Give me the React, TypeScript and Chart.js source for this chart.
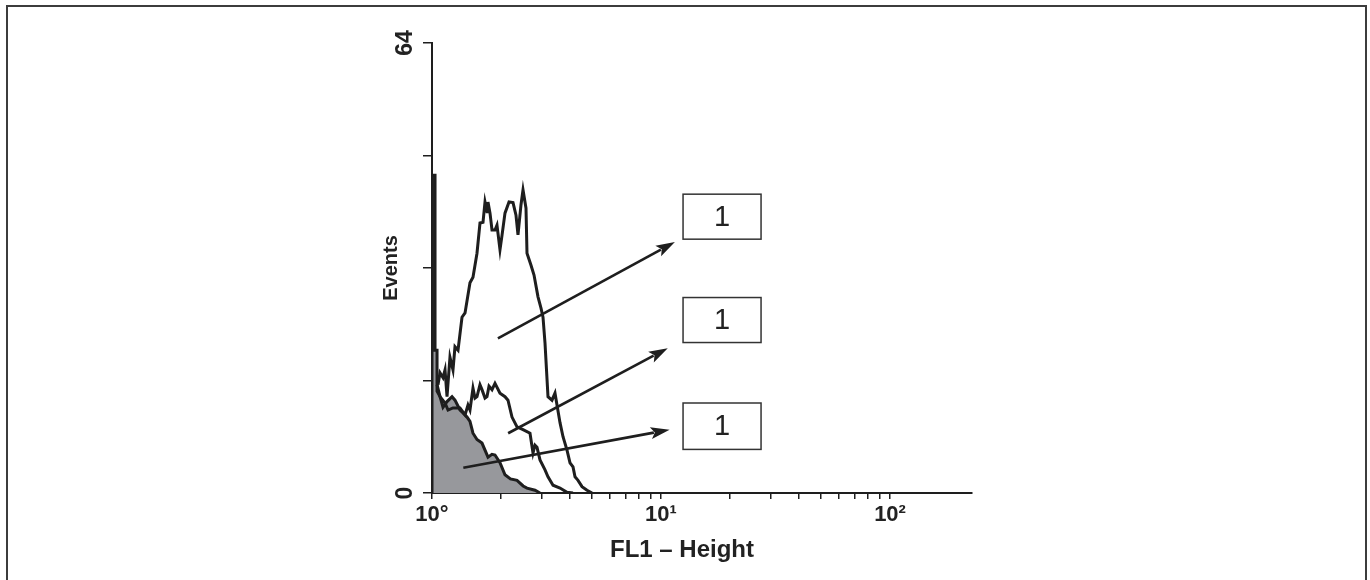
import React, { useEffect, useRef } from "react";
import { Chart, registerables } from "chart.js";

Chart.register(...registerables);

// ---------- axis settings ----------
const X_MIN = 1;
const X_MAX = 228;
const Y_MIN = 0;
const Y_MAX = 64;
const Y_STEP = 16;
const xMajorValues = [1, 10, 100];
const xTickLabels = ["10°", "10¹", "10²"];
const yTickValues = [0, 64];
const yTickLabels = ["0", "64"];
const xTitle = "FL1 – Height";
const yTitle = "Events";

// ---------- histogram 1 (grey filled, control) ----------
const greyFL1 = [1.0, 1.0, 1.031, 1.031, 1.052, 1.052, 1.084, 1.117, 1.163, 1.223, 1.26, 1.325, 1.366, 1.422, 1.465, 1.51, 1.572, 1.653, 1.756, 1.828, 1.884, 1.981, 2.083, 2.2, 2.351, 2.5, 2.599, 2.817, 2.962];
const greyEvents = [0, 45.2, 45.2, 20.3, 20.3, 14.5, 13.7, 12.2, 13.0, 13.7, 13.2, 11.8, 11.4, 10.8, 10.2, 8.5, 7.6, 7.1, 5.1, 5.5, 5.4, 4.3, 2.6, 2.0, 1.8, 1.0, 0.7, 0.4, 0];

// ---------- histogram 2 (middle) ----------
const midFL1 = [1.052, 1.084, 1.14, 1.175, 1.235, 1.325, 1.366, 1.394, 1.436, 1.465, 1.51, 1.541, 1.572, 1.62, 1.653, 1.704, 1.738, 1.774, 1.828, 1.884, 1.981, 2.083, 2.147, 2.235, 2.351, 2.497, 2.679, 2.761, 2.817, 2.874, 2.962, 3.115, 3.21, 3.376, 3.622, 3.886, 4.128];
const midEvents = [15.4, 13.7, 12.8, 11.8, 12.1, 12.1, 11.5, 11.1, 12.5, 11.8, 14.9, 13.5, 13.7, 15.4, 14.7, 13.5, 13.7, 15.2, 14.7, 15.6, 14.2, 13.7, 13.2, 10.8, 9.4, 9.0, 8.5, 5.7, 6.8, 6.5, 4.7, 3.3, 2.3, 1.1, 0.7, 0.1, 0];

// ---------- histogram 3 (tall) ----------
const tallFL1 = [1.062, 1.084, 1.117, 1.14, 1.163, 1.198, 1.235, 1.26, 1.299, 1.352, 1.394, 1.465, 1.51, 1.572, 1.62, 1.67, 1.704, 1.739, 1.756, 1.792, 1.828, 1.884, 1.922, 1.981, 2.021, 2.083, 2.169, 2.258, 2.327, 2.374, 2.447, 2.497, 2.573, 2.599, 2.706, 2.789, 2.903, 2.992, 3.053, 3.115, 3.21, 3.342, 3.444, 3.514, 3.622, 3.733, 3.886, 4.005, 4.128, 4.212, 4.341, 4.519, 4.752, 4.997];
const tallEvents = [15.4, 17.1, 16.4, 17.5, 13.7, 19.3, 17.5, 20.8, 20.3, 25.0, 25.6, 29.9, 30.7, 34.1, 38.4, 38.5, 41.4, 40.0, 41.4, 39.8, 37.4, 37.4, 38.1, 34.6, 36.6, 39.8, 41.4, 41.3, 39.5, 36.7, 41.0, 43.1, 40.5, 34.1, 32.4, 31.0, 27.9, 26.3, 25.0, 21.3, 13.7, 13.2, 14.2, 12.5, 10.0, 8.0, 6.1, 4.3, 3.7, 2.3, 1.8, 0.9, 0.4, 0];

// ---------- annotations (data units) ----------
const boxLabels = ["1", "1", "1"];
const boxFL1From = [12.48, 12.48, 12.48];
const boxFL1To = [27.34, 27.34, 27.34];
const boxEventsTop = [42.5, 27.8, 12.8];
const boxEventsBottom = [36.1, 21.4, 6.2];
const arrowFromFL1 = [1.94, 2.15, 1.37];
const arrowFromEvents = [22.0, 8.5, 3.6];
const arrowToFL1 = [11.5, 10.7, 10.9];
const arrowToEvents = [35.7, 20.6, 9.0];

const FONT = "'Liberation Sans', Arial, sans-serif";
const INK = "#1e1e1e";

function toPoints(xs: number[], ys: number[]) {
  return xs.map((x, i) => ({ x, y: ys[i] }));
}

const decorPlugin = {
  id: "decor",
  beforeDraw(chart: any) {
    const ctx = chart.ctx;
    ctx.save();
    ctx.fillStyle = "#ffffff";
    ctx.fillRect(0, 0, chart.width, chart.height);
    ctx.strokeStyle = "#3c3c3c";
    ctx.lineWidth = 2;
    ctx.strokeRect(7, 6, 1359, 640);
    ctx.restore();
  },
  afterDatasetsDraw(chart: any) {
    const ctx = chart.ctx;
    const xs = chart.scales.x;
    const ys = chart.scales.y;
    ctx.save();
    // arrows
    for (let i = 0; i < arrowFromFL1.length; i++) {
      const x1 = xs.getPixelForValue(arrowFromFL1[i]);
      const y1 = ys.getPixelForValue(arrowFromEvents[i]);
      const x2 = xs.getPixelForValue(arrowToFL1[i]);
      const y2 = ys.getPixelForValue(arrowToEvents[i]);
      const ang = Math.atan2(y2 - y1, x2 - x1);
      const headLen = 19;
      const headHalf = 6;
      const bx = x2 - headLen * Math.cos(ang);
      const by = y2 - headLen * Math.sin(ang);
      ctx.strokeStyle = INK;
      ctx.lineWidth = 2.6;
      ctx.beginPath();
      ctx.moveTo(x1, y1);
      ctx.lineTo(bx + 3 * Math.cos(ang), by + 3 * Math.sin(ang));
      ctx.stroke();
      ctx.fillStyle = INK;
      ctx.beginPath();
      ctx.moveTo(x2, y2);
      ctx.lineTo(bx - headHalf * Math.sin(ang), by + headHalf * Math.cos(ang));
      ctx.lineTo(bx + 4 * Math.cos(ang), by + 4 * Math.sin(ang));
      ctx.lineTo(bx + headHalf * Math.sin(ang), by - headHalf * Math.cos(ang));
      ctx.closePath();
      ctx.fill();
    }
    // boxes
    for (let i = 0; i < boxLabels.length; i++) {
      const l = xs.getPixelForValue(boxFL1From[i]);
      const r = xs.getPixelForValue(boxFL1To[i]);
      const t = ys.getPixelForValue(boxEventsTop[i]);
      const b = ys.getPixelForValue(boxEventsBottom[i]);
      ctx.fillStyle = "#ffffff";
      ctx.fillRect(l, t, r - l, b - t);
      ctx.strokeStyle = "#333333";
      ctx.lineWidth = 1.5;
      ctx.strokeRect(l, t, r - l, b - t);
      ctx.fillStyle = "#222222";
      ctx.font = `29px ${FONT}`;
      ctx.textAlign = "center";
      ctx.textBaseline = "middle";
      ctx.fillText(boxLabels[i], (l + r) / 2, (t + b) / 2 + 1);
    }
    ctx.restore();
  },
  afterDraw(chart: any) {
    const ctx = chart.ctx;
    const ys = chart.scales.y;
    const area = chart.chartArea;
    ctx.save();
    ctx.fillStyle = "#222222";
    // rotated y tick labels
    ctx.font = `bold 23px ${FONT}`;
    ctx.textAlign = "center";
    ctx.textBaseline = "middle";
    for (let i = 0; i < yTickValues.length; i++) {
      const py = ys.getPixelForValue(yTickValues[i]);
      ctx.save();
      ctx.translate(area.left - 26, py);
      ctx.rotate(-Math.PI / 2);
      ctx.fillText(yTickLabels[i], 0, 0);
      ctx.restore();
    }
    // x axis title
    ctx.font = `bold 24px ${FONT}`;
    ctx.textAlign = "center";
    ctx.textBaseline = "middle";
    ctx.fillText(xTitle, (area.left + area.right) / 2 - 20, area.bottom + 57);
    ctx.restore();
  },
};

export default function App() {
  const canvasRef = useRef<HTMLCanvasElement | null>(null);

  useEffect(() => {
    const canvas = canvasRef.current;
    if (!canvas) return;
    const lineStyle = {
      borderColor: INK,
      borderWidth: 3,
      pointRadius: 0,
      tension: 0,
      borderJoinStyle: "miter" as const,
    };
    const chart = new Chart(canvas, {
      type: "line",
      data: {
        datasets: [
          { ...lineStyle, label: "tall", data: toPoints(tallFL1, tallEvents), fill: false },
          { ...lineStyle, label: "middle", data: toPoints(midFL1, midEvents), fill: false },
          {
            ...lineStyle,
            label: "control",
            data: toPoints(greyFL1, greyEvents),
            fill: "origin",
            backgroundColor: "#97989c",
          },
        ],
      },
      options: {
        responsive: false,
        animation: false,
        devicePixelRatio: 1,
        layout: { padding: { left: 375, right: 398, top: 43, bottom: 0 } },
        plugins: {
          legend: { display: false },
          tooltip: { enabled: false },
          title: { display: false },
        },
        scales: {
          x: {
            type: "logarithmic",
            min: X_MIN,
            max: X_MAX,
            afterBuildTicks: (scale: any) => {
              scale.ticks = scale.ticks.filter((t: any) => {
                if (t.value > 100 + 1e-9) return false;
                const e = Math.floor(Math.log10(t.value) + 1e-9);
                const m = t.value / Math.pow(10, e);
                return Math.abs(m - Math.round(m)) < 1e-6;
              });
            },
            afterFit: (scale: any) => {
              scale.height = 87;
            },
            grid: {
              display: true,
              drawOnChartArea: false,
              drawTicks: true,
              tickLength: 6,
              color: INK,
              lineWidth: 1.5,
            },
            border: { display: true, color: INK, width: 2 },
            ticks: {
              autoSkip: false,
              maxRotation: 0,
              minRotation: 0,
              padding: 3,
              color: "#222222",
              font: { family: FONT, size: 22, weight: "bold" },
              callback: (v: any) => {
                const i = xMajorValues.findIndex((m) => Math.abs(m - Number(v)) < 1e-6);
                return i >= 0 ? xTickLabels[i] : "";
              },
            },
            title: { display: false },
          },
          y: {
            type: "linear",
            min: Y_MIN,
            max: Y_MAX,
            afterFit: (scale: any) => {
              scale.width = 57;
            },
            grid: {
              display: true,
              drawOnChartArea: false,
              drawTicks: true,
              tickLength: 9,
              color: INK,
              lineWidth: 1.5,
            },
            border: { display: true, color: INK, width: 2 },
            ticks: { display: false, stepSize: Y_STEP },
            title: {
              display: true,
              text: yTitle,
              color: "#222222",
              font: { family: FONT, size: 20, weight: "bold" },
              padding: { top: 4, bottom: 0 },
            },
          },
        },
      },
      plugins: [decorPlugin],
    } as any);
    return () => chart.destroy();
  }, []);

  return (
    <div style={{ position: "fixed", left: 0, top: 0, width: 1370, height: 580, background: "#fff" }}>
      <canvas ref={canvasRef} width={1370} height={580} style={{ display: "block", width: 1370, height: 580 }} />
    </div>
  );
}
